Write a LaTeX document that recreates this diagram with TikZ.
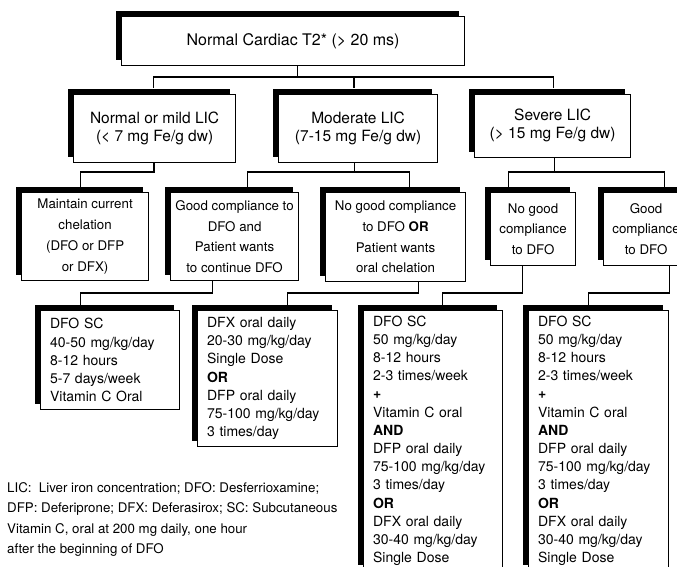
\documentclass[tikz,border=0pt]{standalone}
\usepackage{fontspec}
\setmainfont{TeX Gyre Heros}
\usetikzlibrary{shadows}
\begin{document}
\begin{tikzpicture}[x=1pt,y=-1pt,
  box/.style={draw=black, line width=1.2pt, fill=white, rectangle, inner sep=2pt, anchor=north west,
     general shadow={fill=black, shadow xshift=-5.5pt, shadow yshift=5.5pt}},
  lvla/.style={box, font=\fontsize{16}{19}\selectfont, align=center},
  lvlb/.style={box, font=\fontsize{15.5}{18.3}\selectfont, align=center},
  lvlc/.style={box, font=\fontsize{13.3}{20.7}\selectfont, align=center},
  lvld/.style={box, font=\fontsize{14}{18.2}\selectfont, align=left, inner xsep=9.5pt},
  notetext/.style={font=\fontsize{13.3}{20.3}\selectfont, align=left, anchor=north west, inner sep=0pt},
  conn/.style={draw=black, line width=1.6pt}
]
\useasboundingbox (0,0) rectangle (677,566);
\fill[white] (0,0) rectangle (677,566);
\clip (0,0) rectangle (677,566);

% level 1
\node[lvla, minimum width=343pt, minimum height=49pt] (top) at (121,16) {Normal Cardiac T2* (> 20 ms)};
% level 2
\node[lvlb, minimum width=162pt, minimum height=68.5pt] (normal) at (73,93.5) {Normal or mild LIC\\(< 7 mg Fe/g dw)};
\node[lvlb, minimum width=159pt, minimum height=68pt] (moderate) at (278,93.5) {Moderate LIC\\(7-15 mg Fe/g dw)};
\node[lvlb, minimum width=156pt, minimum height=63pt] (severe) at (474,93.5) {Severe LIC\\(> 15 mg Fe/g dw)};
% level 3
\node[lvlc, minimum width=127pt, minimum height=88pt] (maintain) at (21,192) {Maintain current\\chelation\\(DFO or DFP\\or DFX)};
\node[lvlc, minimum width=128pt, minimum height=88pt] (goodcomp) at (170,192) {Good compliance to\\DFO and\\Patient wants\\to continue DFO};
\node[lvlc, minimum width=140pt, minimum height=89pt] (nogoodor) at (325,192) {No good compliance\\to DFO \textbf{OR}\\Patient wants\\oral chelation};
\node[lvlc, minimum width=85pt, minimum height=73pt] (nogoodsev) at (490,192) {No good\\compliance\\to DFO};
\node[lvlc, minimum width=85pt, minimum height=73pt] (goodsev) at (603,192) {Good\\compliance\\to DFO};
% level 4
\node[lvld, text width=120pt, minimum height=99pt] (dfoa) at (40,310) {DFO SC\\40-50 mg/kg/day\\8-12 hours\\5-7 days/week\\Vitamin C Oral};
\node[lvld, text width=121pt, minimum height=136pt] (dfx) at (197,310) {DFX oral daily\\20-30 mg/kg/day\\Single Dose\\\textbf{OR}\\DFP oral daily\\75-100 mg/kg/day\\3 times/day};
\node[lvld, text width=120pt, minimum height=260pt] (dfob) at (363,310) {DFO SC\\50 mg/kg/day\\8-12 hours\\2-3 times/week\\\textbf{+}\\Vitamin C oral\\\textbf{AND}\\DFP oral daily\\75-100 mg/kg/day\\3 times/day\\\textbf{OR}\\DFX oral daily\\30-40 mg/kg/day\\Single Dose};
\node[lvld, text width=120.5pt, minimum height=260pt] (dfoc) at (528,310) {DFO SC\\50 mg/kg/day\\8-12 hours\\2-3 times/week\\\textbf{+}\\Vitamin C oral\\\textbf{AND}\\DFP oral daily\\75-100 mg/kg/day\\3 times/day\\\textbf{OR}\\DFX oral daily\\30-40 mg/kg/day\\Single Dose};

% connectors
\draw[conn] ([xshift=4.5pt]top.south) -- ++(0,10.7) -| ([xshift=-1.3pt,yshift=5.5pt]normal.north);
\draw[conn] ([xshift=4.5pt]top.south) -- ++(0,10.7) -| ([xshift=-4.2pt,yshift=5.5pt]moderate.north);
\draw[conn] ([xshift=4.5pt]top.south) -- ++(0,10.7) -| ([xshift=1pt,yshift=5.5pt]severe.north);

\draw[conn] ([xshift=-0.7pt]normal.south) -- ++(0,9) -| ([xshift=-4.5pt,yshift=5.5pt]maintain.north);
\draw[conn] ([xshift=-3.5pt]moderate.south) -- ++(0,9.5) -| ([xshift=13pt,yshift=5.5pt]goodcomp.north);
\draw[conn] ([xshift=-3.5pt]moderate.south) -- ++(0,9.5) -| ([xshift=14pt,yshift=5.5pt]nogoodor.north);
\draw[conn] ([xshift=2pt]severe.south) -- ++(0,14.5) -| ([xshift=-24.5pt,yshift=5.5pt]nogoodsev.north);
\draw[conn] ([xshift=2pt]severe.south) -- ++(0,14.5) -| ([xshift=18.5pt,yshift=5.5pt]goodsev.north);

\draw[conn] ([xshift=-22pt]goodcomp.south) -- ++(0,12) -| ([xshift=-29.5pt,yshift=5.5pt]dfoa.north);
\draw[conn] ([xshift=23pt]nogoodor.south) -- ++(0,11) -| ([xshift=20pt,yshift=5.5pt]dfx.north);
\draw[conn] ([xshift=-10.5pt]nogoodsev.south) -- ++(0,27) -| ([xshift=9.5pt,yshift=5.5pt]dfob.north);
\draw[conn] ([xshift=23.5pt]goodsev.south) -- ++(0,27) -| ([xshift=-9.75pt,yshift=5.5pt]dfoc.north);

% footnote
\node[notetext] (note) at (7,482.5) {LIC:\ \ Liver iron concentration; DFO: Desferrioxamine;\\DFP: Deferiprone; DFX: Deferasirox; SC: Subcutaneous\\Vitamin C, oral at 200 mg daily, one hour\\after the beginning of DFO};
\end{tikzpicture}
\end{document}
